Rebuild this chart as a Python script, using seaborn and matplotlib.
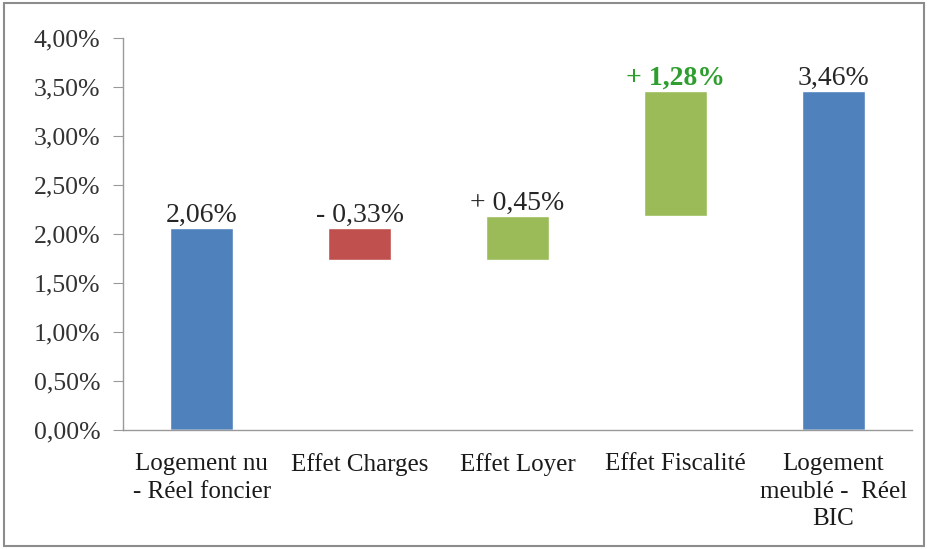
import numpy as np
import pandas as pd
import matplotlib
matplotlib.use("Agg")
import matplotlib.pyplot as plt
from matplotlib.patches import Rectangle
from matplotlib.ticker import FuncFormatter
import seaborn as sns

# waterfall data (percent)
categories = ["Logement nu\n- Réel foncier", "Effet Charges", "Effet Loyer",
              "Effet Fiscalité", "Logement\nmeublé -  Réel\nBIC"]
deltas = [2.06, -0.33, 0.45, 1.28, 3.46]
is_total = [True, False, False, False, True]
labels = ["2,06%", "- 0,33%", "+ 0,45%", "+ 1,28%", "3,46%"]
bar_colors = ["#4F81BD", "#C0504D", "#9BBB59", "#9BBB59", "#4F81BD"]
label_colors = ["#262626", "#262626", "#262626", "#2E9E2E", "#262626"]
label_bold = [False, False, False, True, False]

# bottom / top of each floating bar
tops, bottoms = [], []
level = 0.0
for d, tot in zip(deltas, is_total):
    if tot:
        bottoms.append(0.0)
        tops.append(d)
        level = d
    else:
        new = level + d
        bottoms.append(min(level, new))
        tops.append(max(level, new))
        level = new

df = pd.DataFrame({"cat": categories, "top": tops, "bottom": bottoms})

sns.set_style("white")
plt.rcParams["font.family"] = ["Liberation Serif", "DejaVu Serif"]

fig = plt.figure(figsize=(9.3, 5.49), dpi=100)
ax = fig.add_axes([0.132, 0.217, 0.849, 0.714])

sns.barplot(data=df, x="cat", y="top", hue="cat", palette=bar_colors,
            width=0.4, saturation=1, legend=False, ax=ax)
sns.barplot(data=df, x="cat", y="bottom", color="white",
            width=0.42, saturation=1, ax=ax)

for i, (t, lab, c, b) in enumerate(zip(tops, labels, label_colors, label_bold)):
    ax.annotate(lab, (i, t), xytext=(0, 0), textcoords="offset points",
                ha="center", va="bottom", fontsize=20, color=c,
                fontweight="bold" if b else "normal")

ax.set_ylim(0, 4.0)
ax.set_xlim(-0.5, len(categories) - 0.5)
ax.set_yticks(np.arange(0, 4.01, 0.5))
ax.yaxis.set_major_formatter(FuncFormatter(lambda v, p: f"{v:.2f}%".replace(".", ",")))
ax.set_xticks(np.arange(len(categories)))
ax.set_xticklabels(categories, fontsize=18, color="#1a1a1a", linespacing=1.3)
ax.tick_params(axis="x", length=0, pad=17)
ax.set_xticks(np.arange(-0.5, len(categories), 1), minor=True)
ax.tick_params(axis="x", which="minor", length=7, color="#999999", direction="out")
ax.tick_params(axis="y", labelsize=18.5, labelcolor="#333333", length=7, pad=9,
               color="#999999", direction="out", left=True)
ax.set_xlabel("")
ax.set_ylabel("")
sns.despine(ax=ax, top=True, right=True)
for s in ["left", "bottom"]:
    ax.spines[s].set_color("#999999")
    ax.spines[s].set_linewidth(1)

fig.patches.append(Rectangle((0.004, 0.006), 0.99, 0.988, transform=fig.transFigure,
                             fill=False, edgecolor="#8c8c8c", linewidth=1.5))

fig.savefig("out.png", dpi=100)
